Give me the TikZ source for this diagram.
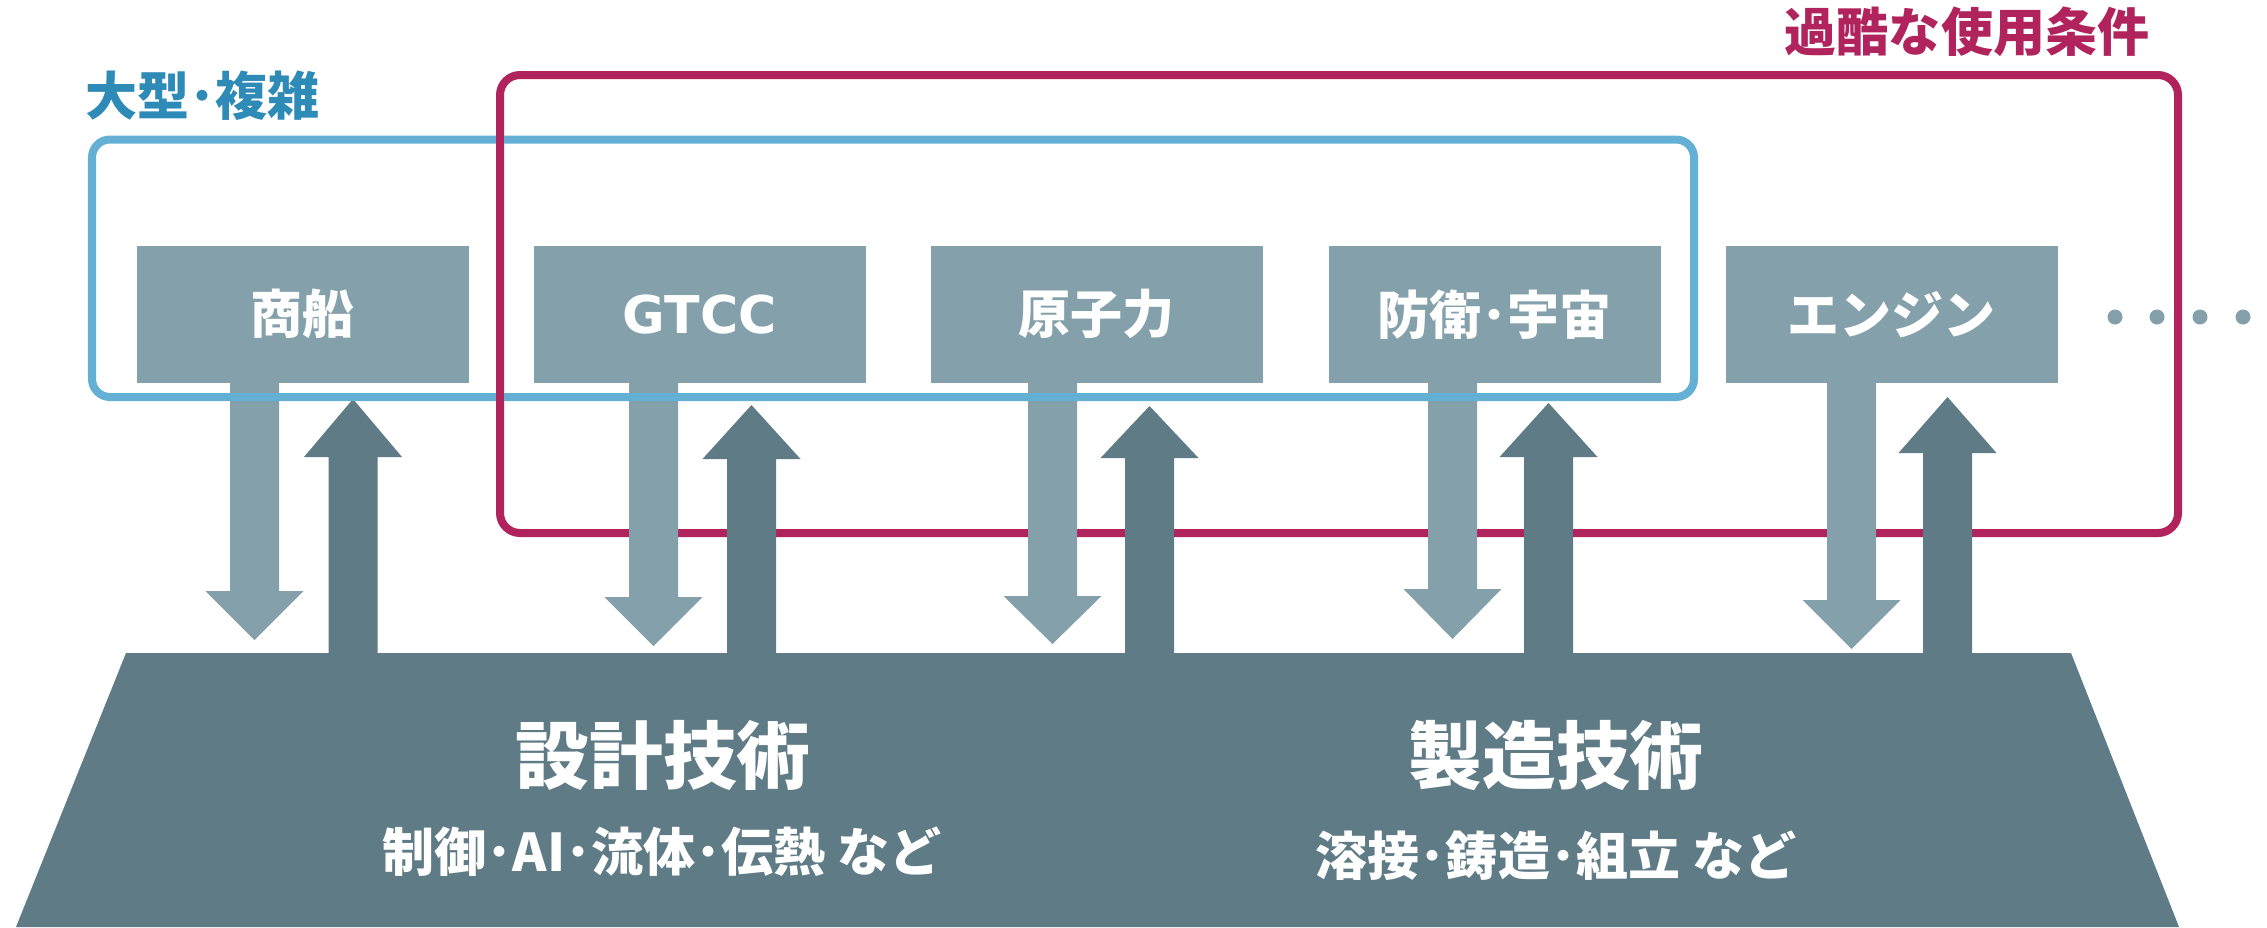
\documentclass[tikz,border=0pt]{standalone}
\usepackage{fontspec}
\newfontfamily\jp{Noto Sans CJK JP}
\newfontfamily\dvs{DejaVu Sans}
\definecolor{boxc}{HTML}{84A0AA}
\definecolor{darkc}{HTML}{5E7B86}
\definecolor{blueline}{HTML}{64AFD4}
\definecolor{bluetext}{HTML}{2E8AB6}
\definecolor{redc}{HTML}{B0235D}
\newcommand\boxfont{\jp\bfseries\fontsize{14.8pt}{14.8pt}\selectfont}
\newcommand\bigfont{\jp\bfseries\fontsize{21pt}{21pt}\selectfont}
\newcommand\downblk[3]{\fill[boxc] ({#1-24.5},380) -- ({#1+24.5},380) -- ({#1+24.5},#2) -- ({#1+49},#2) -- (#1,#3) -- ({#1-49},#2) -- ({#1-24.5},#2) -- cycle;}
\newcommand\upblk[3]{\fill[darkc] ({#1-24.5},660) -- ({#1-24.5},#3) -- ({#1-49},#3) -- (#1,#2) -- ({#1+49},#3) -- ({#1+24.5},#3) -- ({#1+24.5},660) -- cycle;}
\begin{document}
\begin{tikzpicture}[x=0.01cm,y=-0.01cm,
  box/.style={fill=boxc, minimum width=3.32cm, minimum height=1.37cm, inner sep=0pt, anchor=north west, text=white, font=\boxfont},
  redframe/.style={draw=redc, line width=0.08cm},
  blueframe/.style={draw=blueline, line width=0.08cm},
  lbl/.style={inner sep=0pt, font=\boxfont},
  bigtxt/.style={inner sep=0pt, text=white, font=\bigfont},
  subtxt/.style={inner sep=0pt, text=white, font=\boxfont}]
\useasboundingbox (0,0) rectangle (2267,927);
% red frame
\draw[redframe, rounded corners=0.2cm] (500,75) rectangle (2178,533);
% base trapezoid
\fill[darkc] (126,653) -- (2071,653) -- (2179,927) -- (16,927) -- cycle;
% boxes
\node[box] (b1) at (136,245) {商船};
\node[box] (b2) at (533,245) {\dvs\bfseries GTCC};
\node[box] (b3) at (930,245) {原子力};
\node[box] (b4) at (1328,245) {防衛･宇宙};
\node[box] (b5) at (1725,245) {エンジン};
% down arrows
\downblk{254.5}{591}{640}
\downblk{653.5}{597}{646}
\downblk{1052.5}{596}{644}
\downblk{1452.5}{589}{639}
\downblk{1851.5}{600}{649}
% up arrows
\upblk{353}{399}{457}
\upblk{751.5}{405}{459}
\upblk{1149.5}{406}{458}
\upblk{1548.5}{403}{457}
\upblk{1947.5}{397}{453}
% blue frame
\draw[blueframe, rounded corners=0.18cm] (92,139.5) rectangle (1694,397);
% red left side over blue
\draw[redframe] (500,110) -- (500,430);
% dots
\foreach \dx in {2115,2157,2200,2243} \fill[boxc] (\dx,317) circle (0.075cm);
% labels
\node[lbl, text=bluetext, anchor=west] (lblA) at (85,96) {大型･複雑};
\node[lbl, text=redc] (lblB) at (1967,32) {過酷な使用条件};
\node[bigtxt] (t1) at (663,755) {設計技術};
\node[subtxt] (s1) at (662,852) {制御･AI･流体･伝熱 など};
\node[bigtxt] (t2) at (1556,755) {製造技術};
\node[subtxt] (s2) at (1556,856) {溶接･鋳造･組立 など};
\end{tikzpicture}
\end{document}
